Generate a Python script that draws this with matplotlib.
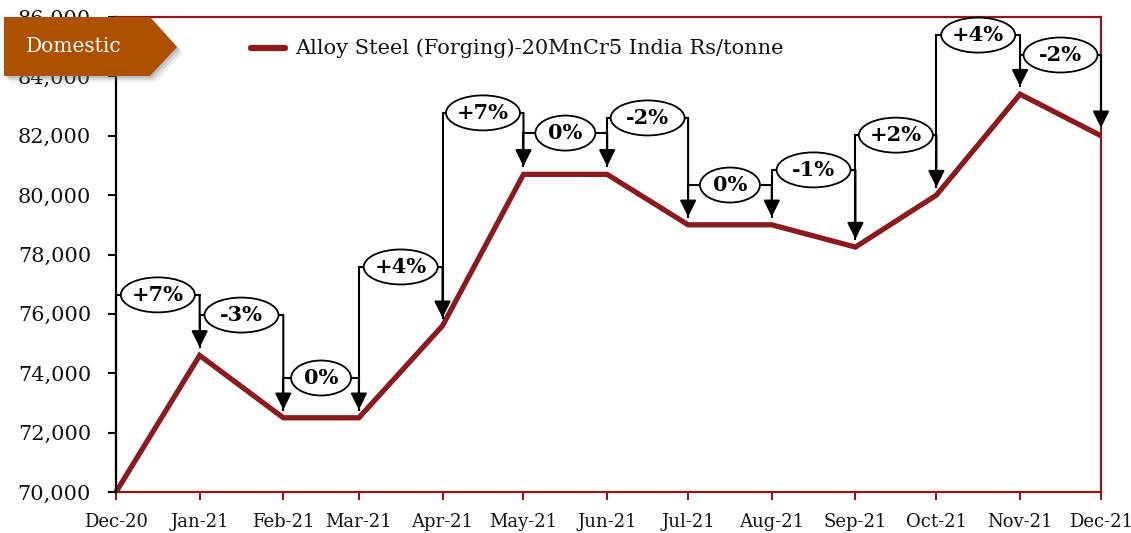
import matplotlib
matplotlib.use("Agg")
import matplotlib.pyplot as plt
import matplotlib.dates as mdates
from matplotlib.patches import Ellipse, Polygon, FancyArrowPatch
from matplotlib.ticker import FuncFormatter, MultipleLocator
import datetime as dt

# ---- data ----
months = ["2020-12-01", "2021-01-01", "2021-02-01", "2021-03-01", "2021-04-01",
          "2021-05-01", "2021-06-01", "2021-07-01", "2021-08-01", "2021-09-01",
          "2021-10-01", "2021-11-01", "2021-12-01"]
tick_labels = ["Dec-20", "Jan-21", "Feb-21", "Mar-21", "Apr-21", "May-21", "Jun-21",
               "Jul-21", "Aug-21", "Sep-21", "Oct-21", "Nov-21", "Dec-21"]
prices = [70000, 74600, 72500, 72500, 75600, 80700, 80700, 79000, 79000, 78250,
          80000, 83400, 82000]
change_labels = ["+7%", "-3%", "0%", "+4%", "+7%", "0%", "-2%", "0%", "-1%", "+2%",
                 "+4%", "-2%"]
bracket_levels = [76640, 75960, 73840, 77580, 82770, 82090, 82600, 80340, 80850,
                  82020, 85390, 84720]
series_name = "Alloy Steel (Forging)-20MnCr5 India Rs/tonne"
banner_text = "Domestic"

LINE_COLOR = "#8B1A1F"
BANNER_COLOR = "#AD5000"
FONT = "DejaVu Serif"
plt.rcParams["font.family"] = [FONT]

W, H = 1131, 533
fig = plt.figure(figsize=(W / 100, H / 100), dpi=100)
x0, x1, ytop, ybot = 116, 1101, 17, 492
ax = fig.add_axes([x0 / W, (H - ybot) / H, (x1 - x0) / W, (ybot - ytop) / H])

dates = [dt.datetime.strptime(m, "%Y-%m-%d") for m in months]
xn = mdates.date2num(dates)

ax.plot(xn, prices, color=LINE_COLOR, lw=3.8, solid_joinstyle="miter",
        solid_capstyle="butt", zorder=3, clip_on=False)

ax.set_xlim(xn[0], xn[-1])
ax.set_ylim(70000, 86000)
ax.yaxis.set_major_locator(MultipleLocator(2000))
ax.yaxis.set_major_formatter(FuncFormatter(lambda v, p: f"{int(v):,}"))
ax.set_xticks(xn)
ax.set_xticklabels(tick_labels)

ax.tick_params(axis="y", direction="out", length=6, width=1.5, color="black",
               pad=12, labelsize=15, labelcolor="#111111")
ax.tick_params(axis="x", direction="out", length=6, width=1.5, color=LINE_COLOR,
               pad=9, labelsize=13, labelcolor="#111111")

for side in ["top", "right", "bottom"]:
    ax.spines[side].set_color(LINE_COLOR)
    ax.spines[side].set_linewidth(1.6)
ax.spines["left"].set_color("black")
ax.spines["left"].set_linewidth(1.6)

# ---- brackets ----
px_per_day = (x1 - x0) / (xn[-1] - xn[0])
val_per_px = 16000 / (ybot - ytop)
gap = 8 * val_per_px
for i, (lab, lev) in enumerate(zip(change_labels, bracket_levels)):
    xa, xb = xn[i], xn[i + 1]
    ya = prices[i] + gap if i > 0 else 70000
    ax.plot([xa, xa, xb], [ya, lev, lev], color="black", lw=1.5, zorder=4,
            solid_joinstyle="miter", clip_on=False)
    arr = FancyArrowPatch((xb, lev), (xb, prices[i + 1] + gap),
                          arrowstyle="-|>,head_length=10,head_width=5",
                          mutation_scale=1, color="black", lw=1.5,
                          shrinkA=0, shrinkB=0, zorder=4, clip_on=False)
    ax.add_patch(arr)
    wpx = 60 if len(lab) == 2 else 74
    hpx = 35
    e = Ellipse(((xa + xb) / 2, lev), wpx / px_per_day, hpx * val_per_px,
                facecolor="white", edgecolor="black", lw=1.3, zorder=5, clip_on=False)
    ax.add_patch(e)
    ax.text((xa + xb) / 2, lev, lab, ha="center", va="center", fontsize=15,
            fontweight="bold", zorder=6)

# ---- legend ----
fig.add_artist(plt.Line2D([251 / W, 285 / W], [1 - 48 / H, 1 - 48 / H],
                          color=LINE_COLOR, lw=4.5, solid_capstyle="round"))
fig.text(295 / W, 1 - 48 / H, series_name, ha="left", va="center",
         fontsize=15, color="#111111")

# ---- banner ----
pts = [(4, 17), (150, 17), (177, 47), (150, 76), (4, 76)]
for k, a in [(6, 0.12), (4, 0.18), (2, 0.25)]:
    shadow = Polygon([((x + k) / W, 1 - (y + k) / H) for x, y in pts], closed=True,
                     facecolor="#777777", edgecolor="none", alpha=a,
                     transform=fig.transFigure, zorder=10)
    fig.add_artist(shadow)
banner = Polygon([(x / W, 1 - y / H) for x, y in pts], closed=True,
                 facecolor=BANNER_COLOR, edgecolor="none",
                 transform=fig.transFigure, zorder=11)
fig.add_artist(banner)
fig.text(74 / W, 1 - 47 / H, banner_text, ha="center", va="center", fontsize=14.5,
         color="white", zorder=12)

fig.savefig("out.png", dpi=100)
